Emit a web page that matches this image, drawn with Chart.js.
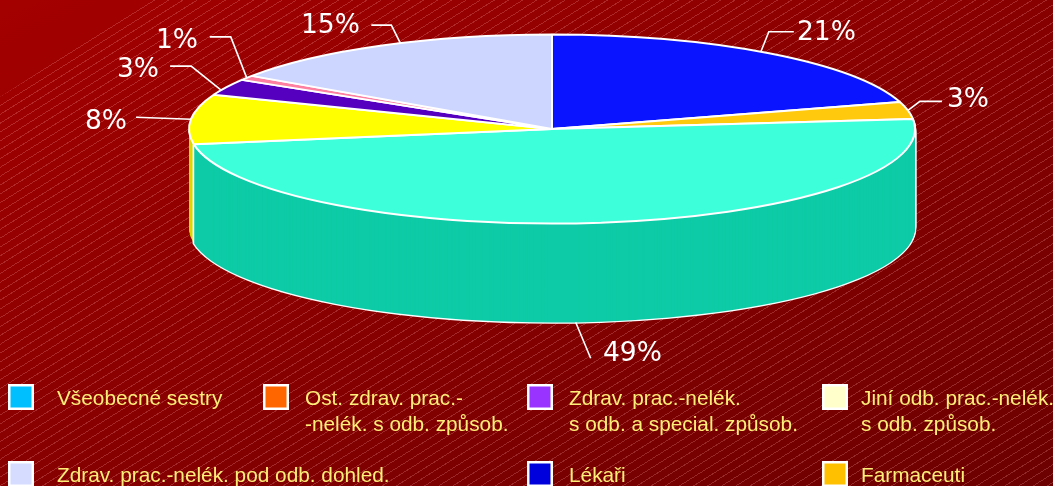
<!DOCTYPE html>
<html>
<head>
<meta charset="utf-8">
<script src="https://cdn.jsdelivr.net/npm/chart.js@4"></script>
<style>
html,body{margin:0;padding:0;width:1053px;height:486px;overflow:hidden}
#bg{position:absolute;left:0;top:0;width:1053px;height:486px;background:linear-gradient(to bottom right,#a40000,#6c0000)}
#hatch{position:absolute;left:0;top:0;width:1053px;height:486px;
 background:repeating-linear-gradient(148deg,rgba(255,170,170,0) 0,rgba(255,170,170,0) 6.6px,rgba(255,170,170,.24) 6.6px,rgba(255,170,170,.24) 7.5px);
 clip-path:polygon(0 97px,150px 0,100% 0,100% 100%,0 100%)}
#wrap{position:absolute;left:0;top:0;width:1053px;height:486px}
</style>
</head>
<body>
<div id="bg"></div><div id="hatch"></div>
<div id="wrap"><canvas id="c" width="1053" height="486"></canvas></div>
<script>
const categories = ["Lékaři","Farmaceuti","Všeobecné sestry","Jiní odb. prac.-nelék.","Zdrav. prac.-nelék. s odb. a special.","Ost. zdrav. prac.-nelék.","Zdrav. prac.-nelék. pod odb. dohled."];
const sliceValues = [20.4, 2.9, 49.1, 8.5, 2.8, 0.8, 15.5];
const percentLabels = ["21%","3%","49%","8%","3%","1%","15%"];
const sliceColors = ["#0A14FF","#FFC90E","#3DFFD9","#FFFF00","#5500BF","#FF7FA0","#CCD6FF"];
const sideColors = ["#0000C0","#D0A000","#0DCBA6","#D9D900","#40008F","#C06078","#99A0C0"];
const legendLines = [["Všeobecné sestry"],["Ost. zdrav. prac.-","-nelék. s odb. způsob."],["Zdrav. prac.-nelék.","s odb. a special. způsob."],["Jiní odb. prac.-nelék.","s odb. způsob."],["Zdrav. prac.-nelék. pod odb. dohled."],["Lékaři"],["Farmaceuti"]];
const legendColors = ["#00BFFF","#FF6600","#9933FF","#FFFFCC","#D5DCFF","#0000DD","#FFC000"];

const SQUASH = 94.5/363, DEPTH = 99, TEAL = 2;
const arcOpts = (bg, bw) => ({backgroundColor:bg,borderColor:'#fff',borderWidth:bw,borderAlign:'center',borderJoinStyle:'round',borderRadius:0,spacing:0,offset:0,circular:true,borderDash:[],borderDashOffset:0,selfJoin:false});
function patchedStroke(ctx){
  ctx.stroke = function(){
    const t = ctx.getTransform();
    ctx.setTransform(1,0,0,1,0,0);
    CanvasRenderingContext2D.prototype.stroke.call(ctx);
    ctx.setTransform(t);
  };
}
function drawWith(arc, ctx, opts, area){
  const saved = arc.options;
  arc.options = opts;
  arc.draw(ctx, area);
  arc.options = saved;
}
const pie3d = {
  id:'pie3d',
  beforeDatasetsDraw(chart){
    const ctx = chart.ctx, arcs = chart.getDatasetMeta(0).data, cy = arcs[0].y;
    const at = d => ctx.setTransform(1,0,0,SQUASH,0,cy*(1-SQUASH)+d);
    ctx.save();
    patchedStroke(ctx);
    const order = [0,1,6,5,4,3];
    for (let d=DEPTH; d>=1; d--){
      at(d);
      order.forEach(i => drawWith(arcs[i], ctx, arcOpts(sideColors[i],0), chart.chartArea));
    }
    for (let d=DEPTH; d>=1; d--){
      at(d);
      drawWith(arcs[TEAL], ctx, arcOpts(sideColors[TEAL],2.5), chart.chartArea);
    }
    for (let d=DEPTH; d>=1; d--){
      at(d);
      drawWith(arcs[TEAL], ctx, arcOpts(sideColors[TEAL],0), chart.chartArea);
    }
    at(0);
  },
  afterDatasetsDraw(chart){
    const ctx = chart.ctx;
    delete ctx.stroke;
    ctx.restore();
  },
  afterDraw(chart){
    const ctx = chart.ctx, arcs = chart.getDatasetMeta(0).data;
    const cx = arcs[0].x, cy = arcs[0].y, R = arcs[0].outerRadius;
    const leaders = [
      {n:-1.6,drop:0,pts:[[8,-20],[33,-20]],tx:797,ty:33},
      {n:0,drop:0,pts:[[12,-9],[34,-9]],tx:947,ty:100},
      {n:4,drop:1,pts:[[15,36]],tx:603,ty:354},
      {n:0,drop:0,pts:[[-55,-2]],tx:85,ty:122},
      {n:-2,drop:0,pts:[[-30,-24],[-51,-24]],tx:117,ty:70},
      {n:0,drop:0,pts:[[-16,-41],[-37,-41]],tx:156,ty:41},
      {n:3.2,drop:0,pts:[[-9,-18],[-29,-18]],tx:301,ty:26}
    ];
    ctx.save();
    ctx.strokeStyle='#fff'; ctx.lineWidth=1.6; ctx.lineJoin='miter';
    ctx.fillStyle='#fff'; ctx.font='26.5px "DejaVu Sans"'; ctx.textBaseline='middle'; ctx.textAlign='left';
    arcs.forEach((a,i)=>{
      const L = leaders[i];
      const mid = (a.startAngle+a.endAngle)/2 + L.n*Math.PI/180;
      const sx = cx+R*Math.cos(mid), sy = cy+R*SQUASH*Math.sin(mid)+(L.drop?DEPTH:0);
      ctx.beginPath(); ctx.moveTo(sx,sy);
      L.pts.forEach(p=>ctx.lineTo(sx+p[0],sy+p[1]));
      ctx.stroke();
      ctx.fillText(percentLabels[i],L.tx,L.ty);
    });
    const cells = [[8,384,57],[263,384,305],[527,384,569],[822,384,861],[8,461,57],[527,461,569],[822,461,861]];
    ctx.font='20.8px "Liberation Sans"'; ctx.textBaseline='alphabetic';
    legendLines.forEach((lines,i)=>{
      const [x,y,tx] = cells[i];
      ctx.fillStyle='#fff'; ctx.fillRect(x,y,26,26);
      ctx.fillStyle=legendColors[i]; ctx.fillRect(x+2.5,y+2.5,21,21);
      ctx.fillStyle='#FFEE77';
      lines.forEach((t,j)=>ctx.fillText(t,tx,y+21+j*26));
    });
    ctx.restore();
  }
};
new Chart(document.getElementById('c'),{
  type:'pie',
  data:{labels:categories,datasets:[{data:sliceValues,backgroundColor:sliceColors,borderColor:'#fff',borderWidth:2,clip:false}]},
  options:{
    responsive:false,animation:false,radius:363,
    layout:{padding:{left:51,bottom:228}},
    plugins:{legend:{display:false},tooltip:{enabled:false}}
  },
  plugins:[pie3d]
});
</script>
</body>
</html>
